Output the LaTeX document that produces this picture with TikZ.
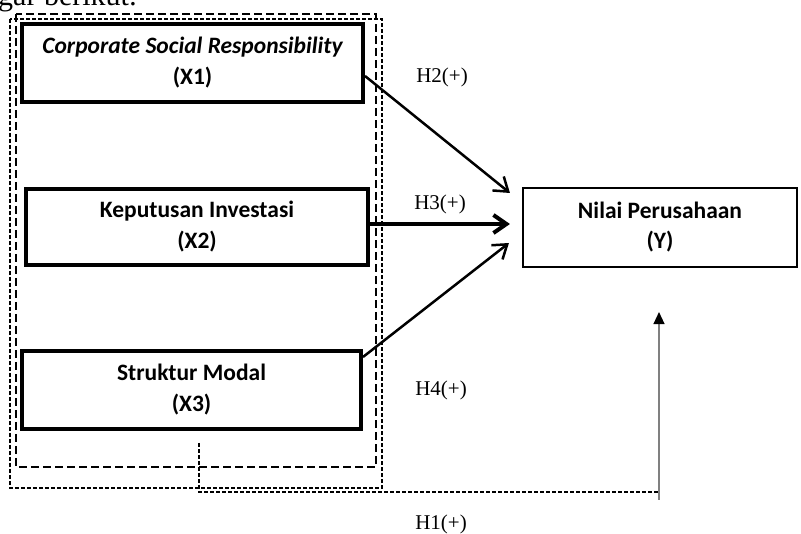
\documentclass[tikz,border=0pt]{standalone}
\usepackage{fontspec}
\setmainfont{Liberation Serif}
\newfontfamily\boxfont{Carlito}
\usetikzlibrary{arrows.meta}
\tikzset{
  varbox/.style={draw, line width=4pt, rectangle, align=center, inner sep=0pt,
    font=\boxfont\bfseries\fontsize{23.5}{31}\selectfont},
  ybox/.style={draw, line width=1.6pt, rectangle, align=center, inner sep=0pt,
    font=\boxfont\bfseries\fontsize{23.5}{30}\selectfont},
  hlabel/.style={font=\fontsize{21}{24}\selectfont, inner sep=0pt},
  barb/.style={-{Straight Barb[length=13pt,width=18pt]}},
  dlong/.style={line width=1.5pt, dash pattern=on 8pt off 4pt},
  dshort/.style={line width=1.5pt, dash pattern=on 4pt off 2pt},
}
\begin{document}
\begin{tikzpicture}[x=1pt,y=-1pt]
\useasboundingbox (0,0) rectangle (801,534);
\clip (0,0) rectangle (801,534);
% cut-off text at the top
\node[anchor=base west, font=\fontsize{30}{34}\selectfont, inner sep=0pt] (top) at (-2,6) {gar berikut:};
% dashed group frames
\draw[dlong] (16,14) rectangle (376,467);
\draw[dshort] (10,19) rectangle (382,488);
% boxes
\node[varbox, minimum width=341pt, minimum height=78pt] (X1) at (192.5,63)
  {\itshape Corporate Social Responsibility\\(X1)};
\node[varbox, minimum width=342pt, minimum height=76pt] (X2) at (197,227)
  {Keputusan Investasi\\(X2)};
\node[varbox, minimum width=339pt, minimum height=78pt] (X3) at (191.5,390)
  {Struktur Modal\\(X3)};
\node[ybox, minimum width=274.5pt, minimum height=79.5pt] (Y) at (660,227.5)
  {Nilai Perusahaan\\(Y)};
% arrows
\draw[barb, line width=2.5pt] ([yshift=-13pt]X1.east) -- ([xshift=-12pt,yshift=34.5pt]Y.west);
\draw[barb, line width=4pt] ([yshift=3pt]X2.east) -- ([xshift=-12pt,yshift=3.5pt]Y.west);
\draw[barb, line width=2.5pt] ([yshift=-8pt]X3.north east) -- ([xshift=-13pt,yshift=-15.5pt]Y.west);
% H1 path
\coordinate (h1s) at ([xshift=7.5pt,yshift=-12pt]X3.south);
\coordinate (h1d) at (659,492);
\coordinate (h1e) at ([xshift=-1pt,yshift=-44pt]Y.south);
\draw[dshort] (h1s) |- (h1d);
\draw[gray, line width=1.3pt, -{Triangle[length=12pt,width=11pt,color=black]}] ([yshift=-8pt]h1d) -- (h1e);
% labels
\node[hlabel] (H2) at (442,77) {H2(+)};
\node[hlabel] (H3) at (440,204) {H3(+)};
\node[hlabel] (H4) at (441,390) {H4(+)};
\node[hlabel] (H1) at (441,524) {H1(+)};
\end{tikzpicture}
\end{document}
